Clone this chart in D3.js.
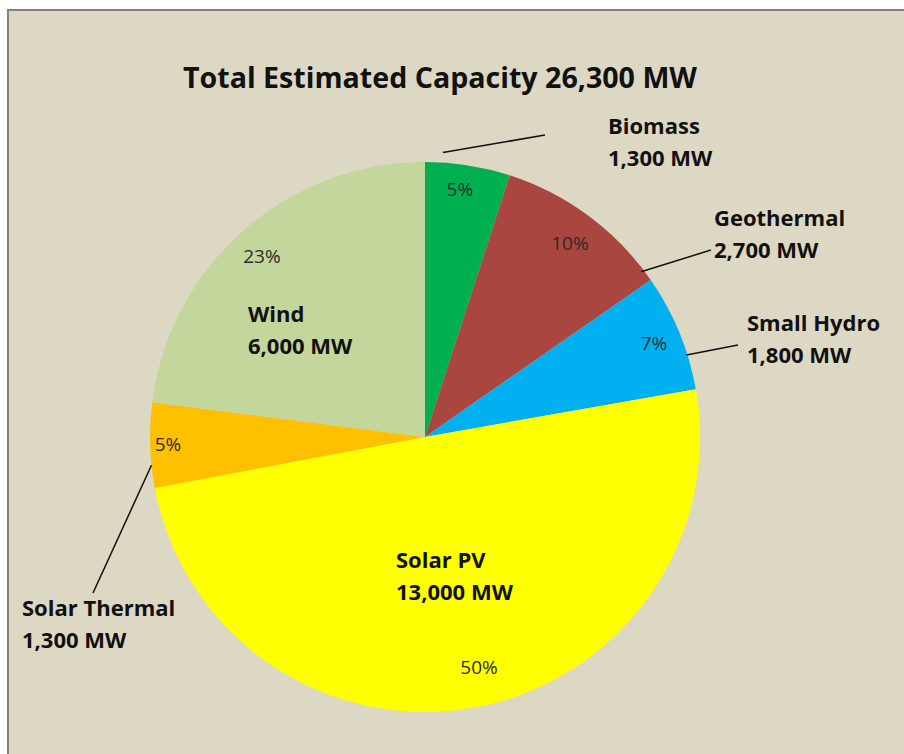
<!DOCTYPE html>
<meta charset="utf-8">
<style>
html, body { margin: 0; background: #fff; overflow: hidden; }
svg { display: block; }
.pct { font: 19px "Open Sans", sans-serif; fill: #2a2a2a; }
.lbl { font: bold 22px "Open Sans", sans-serif; fill: #111; }
.title { font: bold 28px "Open Sans", sans-serif; fill: #111; }
</style>
<body>
<script src="https://cdn.jsdelivr.net/npm/d3@7/dist/d3.min.js"></script>
<script>

// data
var categories = ["Biomass", "Geothermal", "Small Hydro", "Solar PV", "Solar Thermal", "Wind"];
var capacity = [1300, 2700, 1800, 13000, 1300, 6000];
var percents = ["5%", "10%", "7%", "50%", "5%", "23%"];
var colors = ["#00b050", "#a9463f", "#00b0f0", "#ffff00", "#ffc000", "#c3d69b"];
var title = "Total Estimated Capacity 26,300 MW";

var width = 904, height = 754;
var cx = 425, cy = 437, radius = 275;

// label layout: first line x/y, percent spot [fraction of radius, angle deg from top],
// leader line from pie edge (angle deg, radius) to x2/y2
var labelPos = [
  {x: 608, y: 134, pct: [0.91, 8], lead: {a: 3.6, r: 285, x2: 545, y2: 135}},
  {x: 714, y: 226, pct: [0.88, 36.8], lead: {a: 52.6, r: 272, x2: 711, y2: 250}},
  {x: 747, y: 331, pct: [0.90, 67.7], lead: {a: 72.6, r: 274, x2: 738, y2: 345}},
  {x: 396, y: 568, pct: [0.86, 166.8], lead: null},
  {x: 22, y: 616, pct: [0.935, 268.4], lead: {a: 264.1, r: 275, x2: 93, y2: 593}},
  {x: 248, y: 322, pct: [0.886, 318], lead: null}
];
var lineGap = 32;

var fmt = d3.format(",");

var svg = d3.select("body").append("svg")
    .attr("width", width)
    .attr("height", height);

// chart area + border
svg.append("rect")
    .attr("x", 8).attr("y", 10)
    .attr("width", width - 8).attr("height", height - 10)
    .attr("fill", "#ddd8c3");
svg.append("line")
    .attr("x1", 7).attr("y1", 10).attr("x2", width).attr("y2", 10)
    .attr("stroke", "#85827a").attr("stroke-width", 2);
svg.append("line")
    .attr("x1", 8).attr("y1", 9).attr("x2", 8).attr("y2", height)
    .attr("stroke", "#85827a").attr("stroke-width", 2);

svg.append("text")
    .attr("class", "title")
    .attr("x", 183).attr("y", 88)
    .attr("textLength", 514)
    .attr("lengthAdjust", "spacingAndGlyphs")
    .text(title);

var data = categories.map(function(c, i) {
  return {name: c, value: capacity[i], pct: percents[i], color: colors[i], pos: labelPos[i]};
});

var pie = d3.pie().sort(null).value(function(d) { return d.value; });
var arc = d3.arc().innerRadius(0).outerRadius(radius);

var g = svg.append("g").attr("transform", "translate(" + cx + "," + cy + ")");

var arcs = pie(data);

g.selectAll("path.slice")
    .data(arcs)
  .enter().append("path")
    .attr("class", "slice")
    .attr("d", arc)
    .attr("fill", function(d) { return d.data.color; });

function polar(r, deg) {
  var a = deg * Math.PI / 180;
  return [Math.sin(a) * r, -Math.cos(a) * r];
}

// percent labels
g.selectAll("text.pct")
    .data(arcs)
  .enter().append("text")
    .attr("class", "pct")
    .attr("text-anchor", "middle")
    .attr("dy", "0.35em")
    .attr("x", function(d) { var p = d.data.pos.pct; return polar(radius * p[0], p[1])[0]; })
    .attr("y", function(d) { var p = d.data.pos.pct; return polar(radius * p[0], p[1])[1]; })
    .text(function(d) { return d.data.pct; });

// leader lines
svg.selectAll("line.lead")
    .data(data.filter(function(d) { return d.pos.lead; }))
  .enter().append("line")
    .attr("class", "lead")
    .attr("x1", function(d) { return cx + polar(d.pos.lead.r, d.pos.lead.a)[0]; })
    .attr("y1", function(d) { return cy + polar(d.pos.lead.r, d.pos.lead.a)[1]; })
    .attr("x2", function(d) { return d.pos.lead.x2; })
    .attr("y2", function(d) { return d.pos.lead.y2; })
    .attr("stroke", "#111")
    .attr("stroke-width", 1.5);

// category labels
var lbl = svg.selectAll("text.lbl")
    .data(data)
  .enter().append("text")
    .attr("class", "lbl");
lbl.append("tspan")
    .attr("x", function(d) { return d.pos.x; })
    .attr("y", function(d) { return d.pos.y; })
    .text(function(d) { return d.name; });
lbl.append("tspan")
    .attr("x", function(d) { return d.pos.x; })
    .attr("y", function(d) { return d.pos.y + lineGap; })
    .text(function(d) { return fmt(d.value) + " MW"; });

</script>
</body>
